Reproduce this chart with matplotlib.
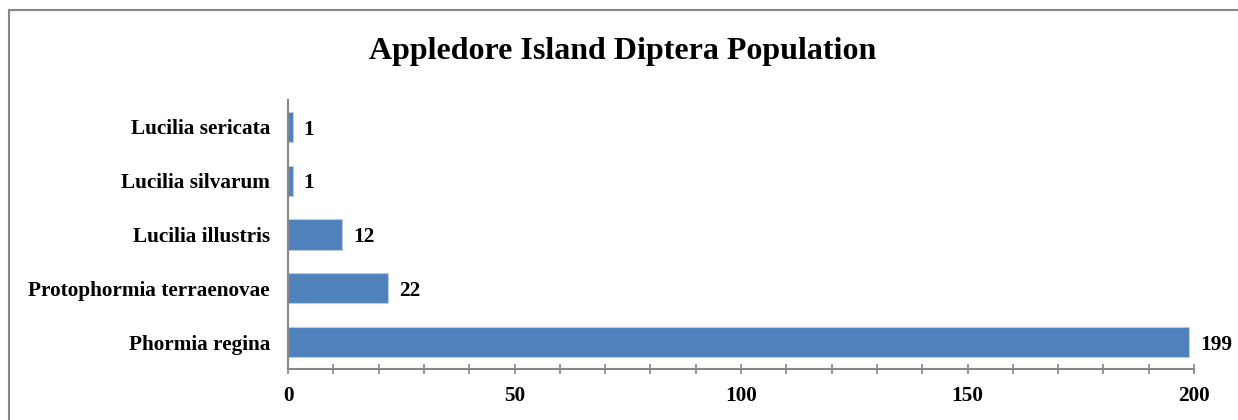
import matplotlib.pyplot as plt
from matplotlib.lines import Line2D
from matplotlib.ticker import MultipleLocator

species = ["Phormia regina", "Protophormia terraenovae", "Lucilia illustris",
           "Lucilia silvarum", "Lucilia sericata"]
counts = [199, 22, 12, 1, 1]
title = "Appledore Island Diptera Population"

W, H = 1238, 420
fig = plt.figure(figsize=(W / 100, H / 100), dpi=100)
plt.rcParams['font.family'] = ['Liberation Serif', 'DejaVu Serif']

ax = fig.add_axes([288 / W, 1 - 369 / H, (1194 - 288) / W, (369 - 100) / H])
pos = range(len(species))
bars = ax.barh(pos, counts, height=0.56, color='#4F81BD', edgecolor='#B9CDE5', linewidth=0.8)

ax.set_xlim(0, 200)
ax.set_ylim(-0.5, len(species) - 0.5)
ax.set_yticks(list(pos))
ax.set_yticklabels(species, fontsize=15.3, fontweight='bold')
ax.tick_params(axis='y', length=0, pad=13)

ax.xaxis.set_major_locator(MultipleLocator(50))
ax.xaxis.set_minor_locator(MultipleLocator(10))
ax.tick_params(axis='x', which='both', direction='inout', length=7, width=1.2,
               color='#868686', labelsize=15.3, pad=8.5)
for lab in ax.get_xticklabels():
    lab.set_fontweight('bold')

for s in ('top', 'right'):
    ax.spines[s].set_visible(False)
for s in ('left', 'bottom'):
    ax.spines[s].set_color('#868686')
    ax.spines[s].set_linewidth(1.5)

for b, v in zip(bars, counts):
    ax.annotate(str(v), (b.get_width(), b.get_y() + b.get_height() / 2),
                xytext=(8, -2), textcoords='offset points', va='center', ha='left',
                fontsize=15.3, fontweight='bold')

fig.text(623 / W, 1 - 52 / H, title, ha='center', va='center',
         fontsize=23, fontweight='bold')

# chart-area border (only top and left visible in the crop)
fig.add_artist(Line2D([9 / W, 9 / W], [0, 1 - 10 / H], transform=fig.transFigure,
                      color='#868686', lw=1.5))
fig.add_artist(Line2D([9 / W, 1], [1 - 10 / H, 1 - 10 / H], transform=fig.transFigure,
                      color='#868686', lw=1.5))

fig.savefig('out.png', dpi=100)
